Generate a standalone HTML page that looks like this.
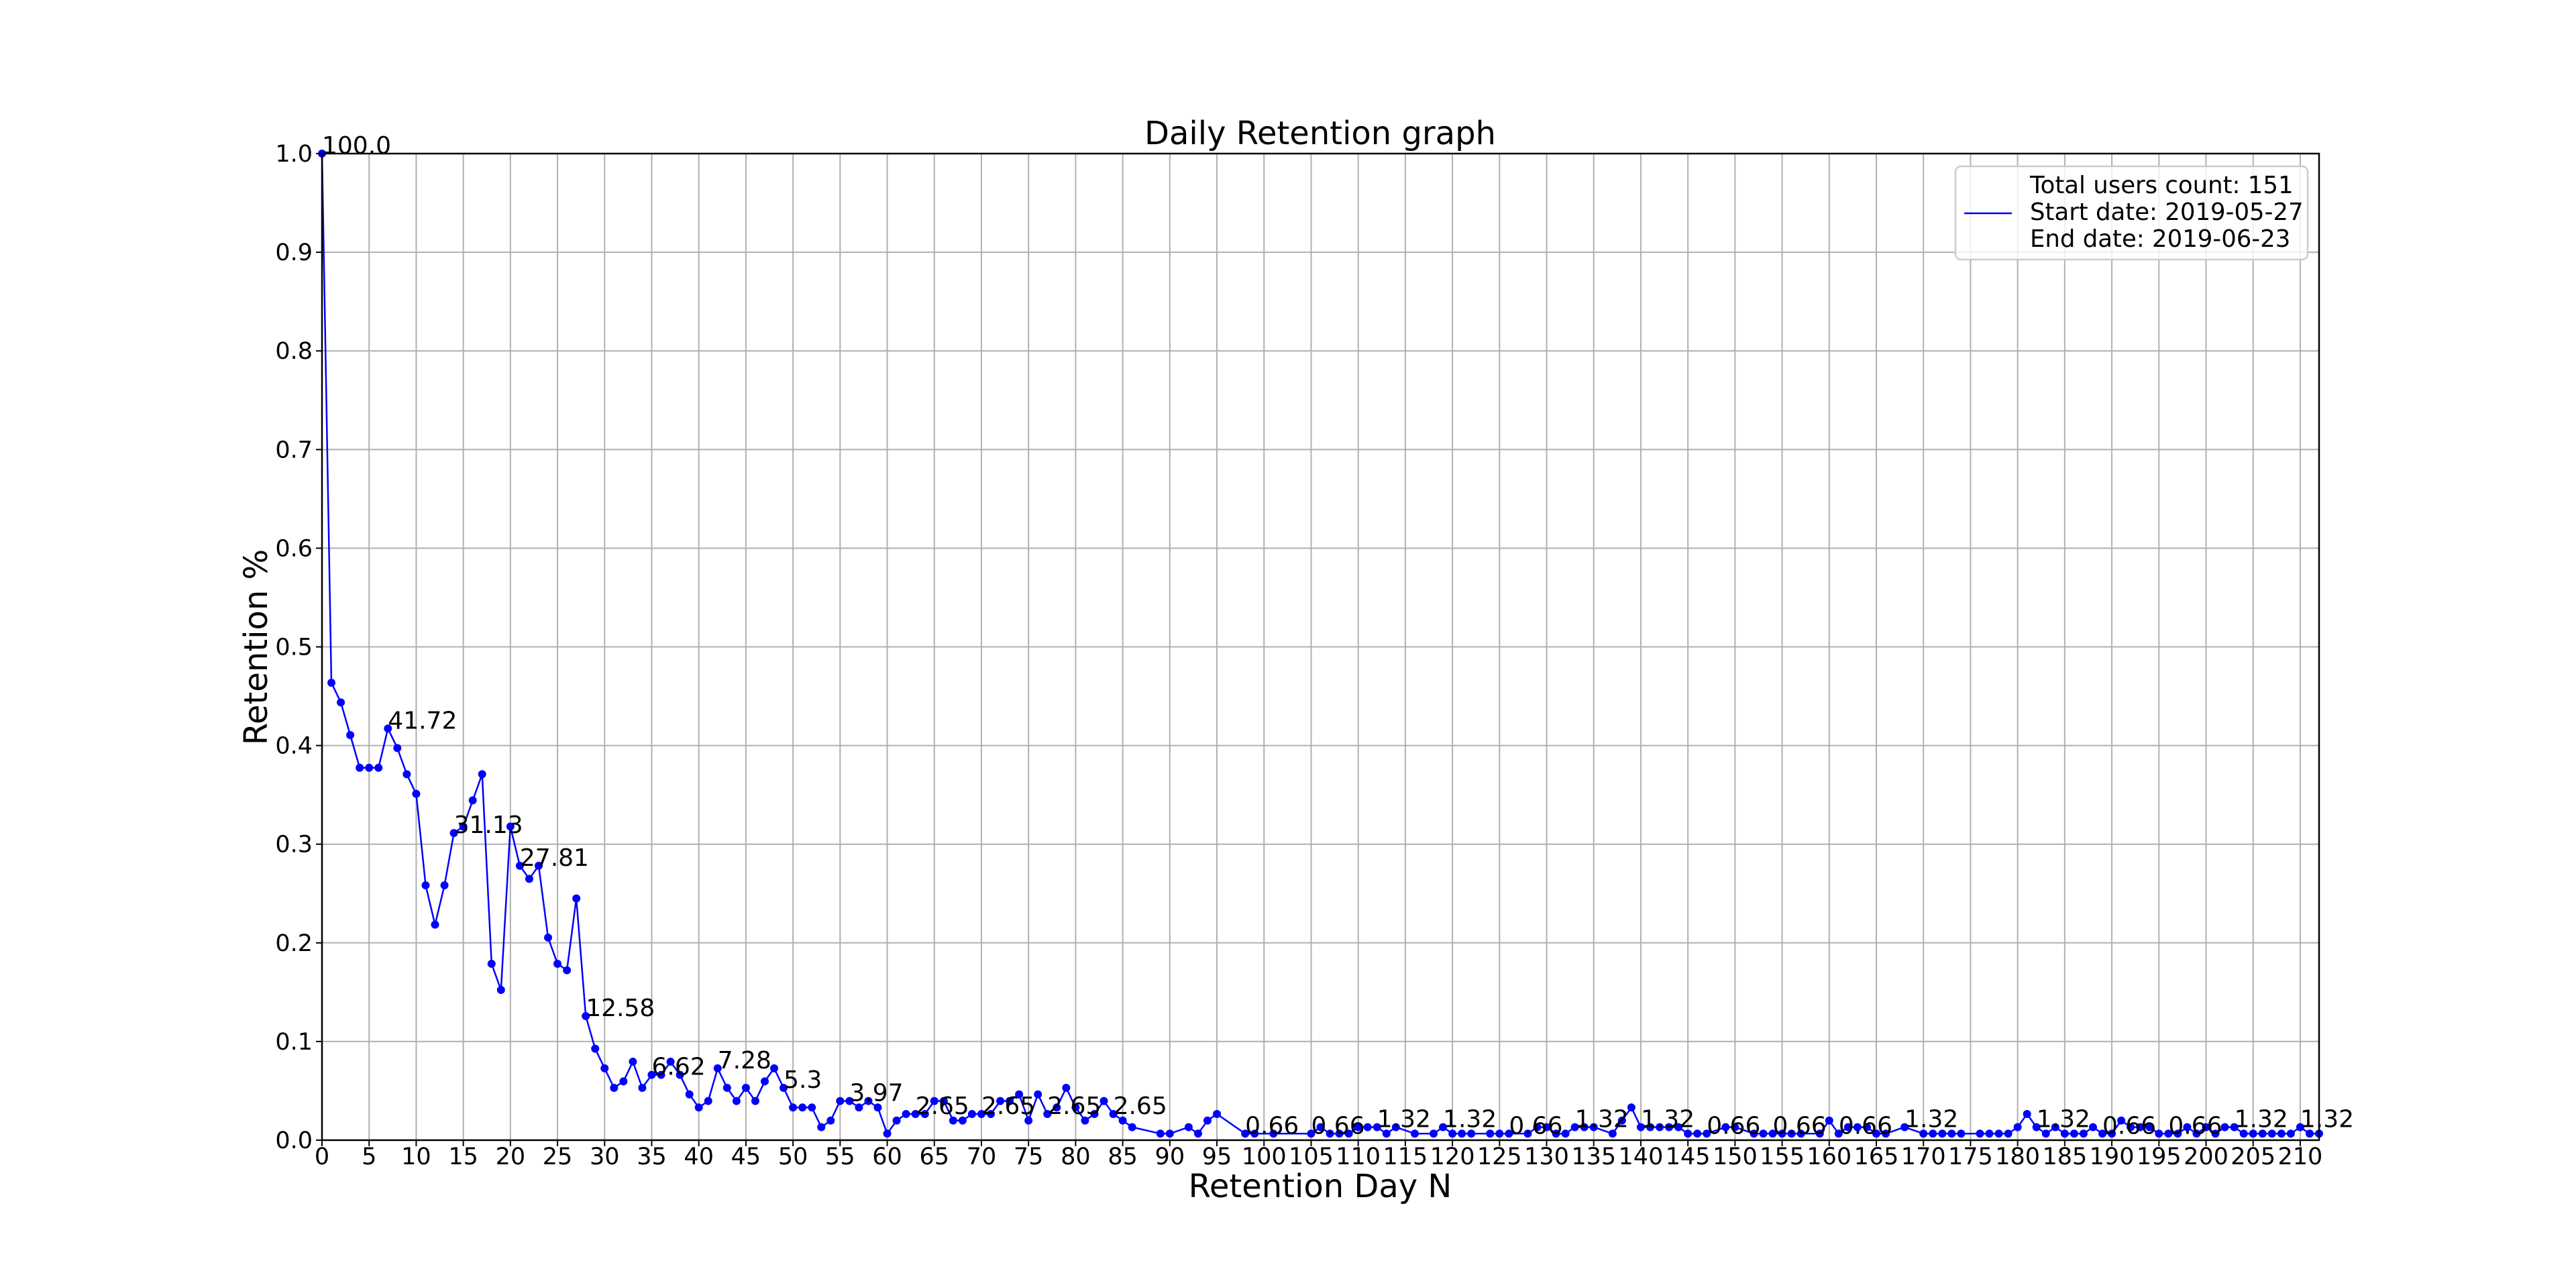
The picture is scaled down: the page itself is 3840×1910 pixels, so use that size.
<!DOCTYPE html>
<html><head><meta charset="utf-8"><style>
html,body{margin:0;padding:0;background:#fff;}
svg{display:block;font-family:"DejaVu Sans","Liberation Sans",sans-serif;}
</style></head><body>
<svg id="chart" width="3840" height="1910" viewBox="0 0 3840 1910" xmlns="http://www.w3.org/2000/svg">
<rect width="3840" height="1910" fill="#fff"/>
<g id="grid"></g>
<g id="series"></g>
<g id="labels"></g>
<rect x="480" y="229" width="2977" height="1471" fill="none" stroke="#000" stroke-width="2.5"/>
<g id="ticks"></g>
<text x="1968" y="215" font-size="48" text-anchor="middle">Daily Retention graph</text>
<text x="1968" y="1785" font-size="48" text-anchor="middle">Retention Day N</text>
<text transform="translate(398,965) rotate(-90)" font-size="48" text-anchor="middle">Retention %</text>
<g>
<rect x="2915" y="248" width="525" height="139" rx="8" fill="#fff" fill-opacity="0.8" stroke="#ccc" stroke-width="2.5"/>
<line x1="2928" y1="318" x2="2999" y2="318" stroke="#0000ff" stroke-width="2.5"/>
<text x="3026" y="288" font-size="35.5">Total users count: 151</text>
<text x="3026" y="328" font-size="35.5">Start date: 2019-05-27</text>
<text x="3026" y="368" font-size="35.5">End date: 2019-06-23</text>
</g>
</svg>
<script>
const days = [0,1,2,3,4,5,6,7,8,9,10,11,12,13,14,15,16,17,18,19,20,21,22,23,24,25,26,27,28,29,30,31,32,33,34,35,36,37,38,39,40,41,42,43,44,45,46,47,48,49,50,51,52,53,54,55,56,57,58,59,60,61,62,63,64,65,66,67,68,69,70,71,72,73,74,75,76,77,78,79,80,81,82,83,84,85,86,89,90,92,93,94,95,98,99,101,105,106,107,108,109,110,111,112,113,114,116,118,119,120,121,122,124,125,126,128,129,130,131,132,133,134,135,137,138,139,140,141,142,143,144,145,146,147,149,150,152,153,154,155,156,157,159,160,161,162,163,164,165,166,168,170,171,172,173,174,176,177,178,179,180,181,182,183,184,185,186,187,188,189,190,191,192,193,194,195,196,197,198,199,200,201,202,203,204,205,206,207,208,209,210,211,212];
const retention = [1.0,0.4636,0.4437,0.4106,0.3775,0.3775,0.3775,0.4172,0.3974,0.3709,0.3510,0.2583,0.2185,0.2583,0.3113,0.3179,0.3444,0.3709,0.1788,0.1523,0.3179,0.2781,0.2649,0.2781,0.2053,0.1788,0.1722,0.2450,0.1258,0.0927,0.0728,0.0530,0.0596,0.0795,0.0530,0.0662,0.0662,0.0795,0.0662,0.0464,0.0331,0.0397,0.0728,0.0530,0.0397,0.0530,0.0397,0.0596,0.0728,0.0530,0.0331,0.0331,0.0331,0.0132,0.0199,0.0397,0.0397,0.0331,0.0397,0.0331,0.0066,0.0199,0.0265,0.0265,0.0265,0.0397,0.0397,0.0199,0.0199,0.0265,0.0265,0.0265,0.0397,0.0397,0.0464,0.0199,0.0464,0.0265,0.0331,0.0530,0.0331,0.0199,0.0265,0.0397,0.0265,0.0199,0.0132,0.0066,0.0066,0.0132,0.0066,0.0199,0.0265,0.0066,0.0066,0.0066,0.0066,0.0132,0.0066,0.0066,0.0066,0.0132,0.0132,0.0132,0.0066,0.0132,0.0066,0.0066,0.0132,0.0066,0.0066,0.0066,0.0066,0.0066,0.0066,0.0066,0.0132,0.0132,0.0066,0.0066,0.0132,0.0132,0.0132,0.0066,0.0199,0.0331,0.0132,0.0132,0.0132,0.0132,0.0132,0.0066,0.0066,0.0066,0.0132,0.0132,0.0066,0.0066,0.0066,0.0066,0.0066,0.0066,0.0066,0.0199,0.0066,0.0132,0.0132,0.0132,0.0066,0.0066,0.0132,0.0066,0.0066,0.0066,0.0066,0.0066,0.0066,0.0066,0.0066,0.0066,0.0132,0.0265,0.0132,0.0066,0.0132,0.0066,0.0066,0.0066,0.0132,0.0066,0.0066,0.0199,0.0132,0.0132,0.0132,0.0066,0.0066,0.0066,0.0132,0.0066,0.0132,0.0066,0.0132,0.0132,0.0066,0.0066,0.0066,0.0066,0.0066,0.0066,0.0132,0.0066,0.0066];
const labelDays = [0,7,14,21,28,35,42,49,56,63,70,77,84,98,105,112,119,126,133,140,147,154,161,168,182,189,196,203,210];
const xTicks = [0,5,10,15,20,25,30,35,40,45,50,55,60,65,70,75,80,85,90,95,100,105,110,115,120,125,130,135,140,145,150,155,160,165,170,175,180,185,190,195,200,205,210];
const yTicks = [0.0,0.1,0.2,0.3,0.4,0.5,0.6,0.7,0.8,0.9,1.0];

const X0=480,X1=3457,Y0=1700,Y1=229,XMAX=212;
const xs = d => X0 + d/XMAX*(X1-X0);
const ys = v => Y0 - v*(Y0-Y1);
const NS='http://www.w3.org/2000/svg';
function mk(tag, attrs, parent){const e=document.createElementNS(NS,tag);for(const k in attrs)e.setAttribute(k,attrs[k]);parent.appendChild(e);return e;}
const grid=document.getElementById('grid'), ticks=document.getElementById('ticks'), series=document.getElementById('series'), labels=document.getElementById('labels');

xTicks.forEach(t=>{
  const x=xs(t);
  const g=mk('line',{x1:x,y1:Y1,x2:x,y2:Y0,stroke:'#b0b0b0','stroke-width':2},grid);
  
  
  const tk=mk('line',{x1:x,y1:Y0,x2:x,y2:Y0+9,stroke:'#000','stroke-width':2},ticks);
  
  
  const tl=mk('text',{x:x,y:Y0+36,'font-size':35,'text-anchor':'middle'},ticks);
  tl.textContent=String(t);
  
  
});
yTicks.forEach(t=>{
  const y=ys(t);
  const g=mk('line',{x1:X0,y1:y,x2:X1,y2:y,stroke:'#b0b0b0','stroke-width':2},grid);
  
  
  const tk=mk('line',{x1:X0-9,y1:y,x2:X0,y2:y,stroke:'#000','stroke-width':2},ticks);
  
  
  const tl=mk('text',{x:X0-14,y:y+12,'font-size':35,'text-anchor':'end'},ticks);
  tl.textContent=t.toFixed(1);
  
  
});

const pts=days.map((d,i)=>xs(d).toFixed(1)+','+ys(retention[i]).toFixed(1)).join(' ');
const line=mk('polyline',{points:pts,fill:'none',stroke:'#0000ff','stroke-width':2.5,'stroke-linejoin':'round'},series);


days.forEach((d,i)=>{
  const c=mk('circle',{cx:xs(d),cy:ys(retention[i]),r:6,fill:'#0000ff'},series);
  
  
});
labelDays.forEach(d=>{
  const i=days.indexOf(d); if(i<0) return;
  const v=Math.round(retention[i]*10000)/100;
  let s=String(v); if(Number.isInteger(v)) s=v+'.0';
  const t=mk('text',{x:xs(d),y:ys(retention[i]),'font-size':36},labels);
  t.textContent=s;
  
  
});
</script>
</body></html>
